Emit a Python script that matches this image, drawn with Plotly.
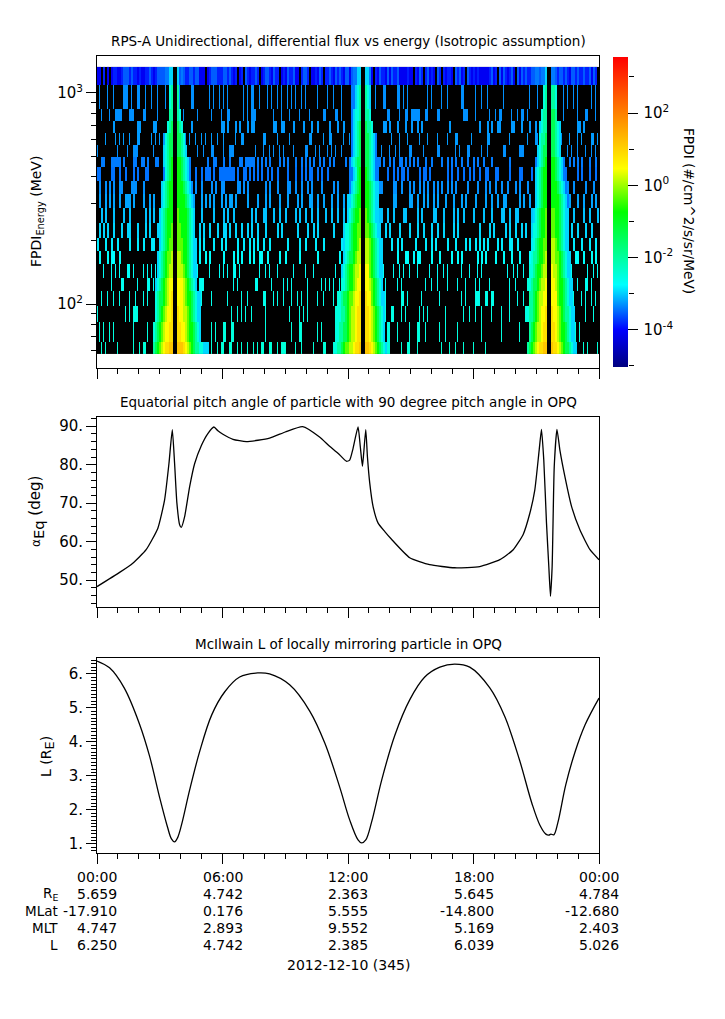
import numpy as np
import plotly.graph_objects as go

W, H = 725, 1019

# energy bin edges of the spectrogram, MeV, top row first
ENERGY_EDGES = [1328, 1091, 840, 737, 646, 567, 497, 446, 383, 332, 285, 242, 205, 178, 155, 133, 115, 98, 82, 66, 58]
N_COLS = 251

# log10 flux of a single count in each row below the top one
ONE_COUNT = [-3.3, -3.3, -3.25, -3.25, -3.3, -3.4, -3.45, -3.3, -3.2, -3.05, -2.95, -2.85, -2.75, -2.7, -2.65, -2.6, -2.55, -2.5, -2.45]
# how many pixels wide a count looks in each of those rows
HIT_WIDTHS = [1, 1, 2, 1, 1, 2, 2, 2, 2, 2, 2, 2, 2, 1, 1, 1, 1, 1, 1]

# level codes used in the strings below
LEVELS = {'x': -4.1, 'y': -3.85, 'z': -3.55, 'a': -3.9, 'b': -3.4, 'c': -2.95, 'd': -2.5, 'e': -2.0, 'f': -1.4, 'g': -0.8,
          'h': -0.3, 'i': 0.15, 'j': 0.5, 'k': 0.85, 'l': 1.15}

# top energy row, never empty for long
TOP_ROW_A = "xx.y.x.xyyxxyzzzyzyyxyxxyyzyxyzzzzbcc..zczzzyyzzyzzxxx.xyzzzyyy"
TOP_ROW_B = "zzyzyxy.xy.zyxyyzy.xyzzyxzyy.xyxzyyzxx.yzzy.xxyxzy.yyzyxzyzyxzzz"
TOP_ROW_C = "x.yyzyxxyxyx.yxzyyxzxzyyzxxxxyxx.yxzy.yzxyx.zy.yxyyx.zyzxy.zyxyyx"
TOP_ROW_D = "xyxxxxxyzxy.zxzyxyzx.zxzyzyyzzbbc..bbzzzyyzzyzyxzzyzyyzyyzxzy"

# sample columns with a count, one list per energy row
HITS_01 = [1, 5, 8, 13, 14, 15, 17, 20, 21, 24, 27, 30, 34, 41, 47, 48, 56, 58, 61, 63, 65, 73, 75, 77, 78, 81, 85, 87, 90, 92, 95, 97, 99, 102, 104, 110, 115, 118, 122, 139, 143, 144, 150, 151, 153, 155, 165, 167, 172, 175, 182, 183, 189, 192, 195, 203, 216, 220, 233, 235, 238, 240, 247, 249]
HITS_02 = [2, 6, 9, 10, 11, 12, 16, 17, 18, 23, 24, 30, 41, 43, 50, 57, 62, 65, 66, 73, 75, 77, 78, 79, 88, 92, 96, 101, 106, 113, 114, 119, 120, 122, 145, 146, 151, 154, 155, 157, 158, 159, 160, 161, 164, 165, 170, 171, 183, 184, 185, 189, 196, 199, 201, 202, 207, 210, 212, 213, 215, 233, 240, 244, 245, 249]
HITS_03 = [8, 20, 21, 28, 29, 47, 62, 63, 65, 69, 71, 75, 77, 78, 88, 89, 92, 93, 98, 103, 107, 110, 116, 120, 123, 127, 143, 144, 146, 150, 154, 157, 160, 162, 176, 191, 195, 197, 200, 201, 207, 208, 212, 216, 219, 240, 241, 243]
HITS_04 = [4, 9, 11, 13, 16, 20, 21, 27, 29, 31, 33, 34, 44, 46, 49, 52, 54, 57, 60, 63, 69, 72, 73, 83, 84, 90, 96, 106, 107, 113, 116, 117, 123, 126, 138, 147, 151, 155, 161, 165, 170, 175, 179, 180, 187, 195, 196, 206, 215, 219, 220, 232, 236, 240, 242, 247, 248, 250]
HITS_05 = [0, 10, 15, 18, 19, 20, 28, 44, 50, 53, 57, 58, 63, 66, 67, 68, 79, 83, 86, 88, 91, 93, 98, 104, 105, 109, 111, 115, 117, 119, 122, 142, 146, 149, 151, 156, 157, 163, 170, 171, 179, 181, 185, 186, 192, 195, 203, 204, 211, 212, 213, 235, 237, 240, 244, 247, 249]
HITS_06 = [2, 3, 7, 8, 9, 10, 11, 13, 18, 19, 22, 23, 25, 29, 30, 55, 58, 59, 63, 66, 71, 72, 74, 75, 76, 77, 78, 80, 82, 84, 86, 91, 93, 95, 99, 102, 104, 106, 108, 111, 113, 116, 118, 124, 127, 141, 143, 146, 148, 151, 152, 154, 156, 158, 160, 164, 167, 172, 175, 177, 179, 182, 185, 188, 190, 193, 197, 206, 219, 233, 236, 238, 240, 242, 246, 249]
HITS_07 = [0, 1, 7, 8, 11, 14, 18, 20, 24, 25, 46, 49, 52, 54, 55, 56, 58, 61, 62, 63, 64, 65, 66, 67, 68, 70, 73, 74, 76, 78, 80, 82, 85, 87, 90, 95, 99, 102, 104, 106, 107, 110, 112, 115, 126, 140, 145, 148, 150, 152, 153, 155, 161, 163, 164, 166, 175, 177, 180, 183, 186, 188, 191, 194, 195, 199, 200, 206, 211, 212, 217, 234, 240, 242, 246, 249]
HITS_08 = [1, 4, 6, 8, 11, 12, 17, 18, 19, 23, 47, 49, 52, 57, 59, 62, 63, 70, 71, 73, 75, 84, 86, 90, 95, 96, 99, 102, 105, 107, 112, 118, 120, 141, 142, 148, 149, 152, 156, 158, 161, 163, 165, 168, 170, 172, 175, 177, 179, 185, 190, 194, 196, 199, 202, 205, 209, 211, 215, 219, 235, 238, 244, 248]
HITS_09 = [1, 4, 6, 8, 11, 14, 15, 16, 18, 23, 26, 28, 48, 52, 54, 56, 58, 62, 64, 66, 67, 69, 75, 80, 84, 86, 91, 95, 100, 102, 106, 107, 110, 113, 117, 120, 123, 125, 148, 149, 156, 157, 160, 163, 165, 168, 170, 174, 178, 182, 184, 189, 194, 197, 200, 203, 204, 211, 213, 216, 236, 240, 243, 247, 249]
HITS_10 = [2, 4, 8, 13, 16, 24, 26, 28, 52, 58, 63, 65, 68, 77, 79, 83, 84, 88, 91, 94, 99, 101, 104, 107, 110, 114, 117, 120, 123, 141, 142, 145, 148, 153, 154, 160, 162, 168, 169, 173, 178, 180, 183, 188, 193, 197, 202, 203, 206, 209, 210, 217, 238, 243, 246, 250]
HITS_11 = [1, 3, 5, 8, 12, 15, 16, 20, 24, 26, 30, 51, 53, 56, 60, 63, 64, 66, 69, 72, 75, 77, 80, 84, 90, 92, 100, 105, 108, 110, 118, 123, 141, 144, 146, 151, 156, 160, 163, 167, 170, 173, 178, 180, 191, 196, 198, 204, 206, 209, 212, 214, 217, 237, 240, 244, 247]
HITS_12 = [0, 4, 7, 10, 16, 20, 23, 27, 28, 51, 53, 58, 62, 64, 70, 73, 76, 78, 80, 83, 86, 95, 101, 104, 109, 113, 122, 142, 147, 150, 152, 159, 164, 167, 169, 175, 179, 184, 186, 189, 191, 193, 195, 200, 202, 206, 207, 210, 217, 235, 238, 242, 246, 249]
HITS_13 = [1, 5, 7, 8, 11, 51, 54, 56, 63, 68, 70, 72, 76, 78, 81, 82, 85, 91, 94, 101, 110, 121, 150, 154, 155, 158, 160, 161, 167, 171, 177, 180, 182, 190, 192, 194, 199, 203, 207, 211, 216, 239, 240, 243, 247, 249]
HITS_14 = [3, 7, 9, 11, 15, 16, 18, 23, 25, 27, 29, 50, 56, 61, 63, 65, 68, 69, 71, 81, 84, 86, 90, 98, 104, 108, 119, 122, 141, 143, 148, 151, 153, 156, 160, 166, 170, 173, 175, 182, 186, 190, 192, 205, 208, 210, 213, 237, 245, 248, 250]
HITS_15 = [7, 12, 13, 20, 25, 26, 28, 51, 52, 53, 68, 70, 79, 80, 87, 93, 95, 97, 105, 112, 114, 116, 118, 121, 142, 144, 150, 152, 164, 167, 170, 175, 180, 184, 189, 191, 196, 206, 209, 215, 240, 244, 245, 247]
HITS_16 = [2, 5, 8, 11, 16, 19, 23, 25, 29, 50, 52, 57, 65, 72, 75, 83, 84, 88, 90, 93, 97, 100, 102, 105, 110, 113, 118, 121, 144, 152, 153, 155, 162, 171, 182, 184, 189, 190, 191, 194, 195, 197, 198, 206, 210, 213, 238, 242, 244, 247, 249]
HITS_17 = [0, 14, 16, 18, 19, 20, 30, 51, 67, 70, 72, 74, 77, 84, 96, 101, 103, 105, 120, 144, 147, 148, 152, 154, 161, 163, 165, 174, 183, 186, 189, 192, 197, 202, 206, 214, 238, 244, 248]
HITS_18 = [1, 3, 6, 8, 18, 25, 57, 59, 63, 64, 67, 68, 84, 97, 101, 102, 110, 112, 120, 121, 143, 145, 146, 150, 156, 160, 161, 164, 171, 174, 180, 192, 202, 211, 239, 241]
HITS_19 = [2, 4, 10, 18, 21, 23, 24, 53, 54, 57, 60, 62, 63, 66, 67, 70, 72, 75, 78, 80, 82, 83, 86, 87, 90, 92, 93, 94, 99, 102, 108, 113, 114, 145, 146, 152, 155, 156, 160, 172, 176, 179, 183, 188, 194, 243, 245, 250]
ALL_HITS = [HITS_01, HITS_02, HITS_03, HITS_04, HITS_05, HITS_06, HITS_07, HITS_08, HITS_09, HITS_10,
            HITS_11, HITS_12, HITS_13, HITS_14, HITS_15, HITS_16, HITS_17, HITS_18, HITS_19]

# radiation belt passes: levels running in towards and out from the empty slot at perigee
BELT_LEFT_END = [37, 131, 224]
BELT_RIGHT_START = [40, 134, 227]
BELT1_IN = ["zbbcc", "de", "ee", "def", "deff", "cdeff", "cdefg", "bdefg", "cdefgg", "cdefgg", "cdefggg", "cdefggh", "cdefghh", "cdefghhi", "cdefghii", "cdefghijj", "deffghijk", "defghijjk", "defghijjkk", "efghijkkll"]
BELT1_OUT = ["czb", "e", "ed", "fed", "ffed", "ffedc", "ggfedcb", "ggfedcb", "gggfedc", "ggggfedc", "hggggfedc", "hhgggfedc", "hhhggfedcc", "iihggfedcc", "iiihgfedcc", "jjjihgfedc", "jjjihggfedcc", "kjjiihgfedcc", "kkjjihggfedc", "lllkjihgfeeddccc"]
BELT2_IN = ["zbbcc", "bbcde", "bcdde", "bcdef", "bcdef", "bcdef", "bcdeff", "bbcdfg", "bcdefg", "ccdefgg", "cdefggh", "cddefgghh", "cddefgghi", "cdeffghii", "cdefgghiij", "ddefgghijj", "ddeffghhijjk", "dddeefghiijkk", "ddeeffghiijkk", "ddeefghhiijkkl"]
BELT2_OUT = ["ccb", "edc", "eed", "feed", "ffedcb", "ffedcb", "ffedcbb", "gfedcbb", "ggfedcc", "ggfedcc", "hgfedcc", "hhgfedcc", "iihgfedcc", "iihgfedcc", "jjhgfedcc", "jjihgfedc", "kjjhgfedcc", "kkjihgfedc", "kkjihgfedc", "llkjihgfedc"]
BELT3_IN = ["zbbc", "de", "dee", "cdee", "deef", "cdeff", "cdefg", "cdefgg", "cdefgg", "cdefgg", "cdefggh", "ddefggh", "defgghh", "deefgghi", "ddefgghii", "ddeffghiij", "eefghiijj", "ddeefghijjk", "efghiijkk", "efghijkkll"]
BELT3_OUT = ["bbz", "eed", "ffe", "ffedc", "ffedc", "ffedc", "ggfedcb", "ggfedcb", "gggfedcb", "ggggfedcb", "hhggfedcc", "hhggfedcc", "iihgfedcc", "iihhgfedcc", "jiihgfedcc", "jjihggfedcc", "jjjhggfedcc", "kjjihgfeedcc", "kkjihggfedcc", "lkkjihgffedcc"]
BELTS_IN = [BELT1_IN, BELT2_IN, BELT3_IN]
BELTS_OUT = [BELT1_OUT, BELT2_OUT, BELT3_OUT]

# equatorial pitch angle
PITCH_HOURS = [0, 1.08, 1.71, 2.35, 2.91, 3.23, 3.44, 3.6, 3.71, 3.82, 3.95, 4.03, 4.19, 4.43, 4.67, 4.99, 5.3, 5.59, 5.78, 6.02, 6.5, 7.14, 8.25, 9.0, 9.83, 10.64, 11.12, 11.52, 11.92, 12.08, 12.24, 12.48, 12.59, 12.69, 12.75, 12.85, 12.93, 13.04, 13.2, 13.44, 13.76, 14.08, 14.95, 15.9, 17.1, 18.3, 19.26, 19.9, 20.37, 20.69, 20.93, 21.14, 21.25, 21.36, 21.49, 21.6, 21.68, 21.76, 21.86, 21.99, 22.13, 22.37, 22.69, 23.09, 23.57, 24]
PITCH_DEG = [48.3, 52, 54.4, 57.9, 63.5, 70.8, 80.3, 89.1, 80.3, 70, 64.4, 63.7, 66.5, 74.3, 80.3, 85, 88.1, 89.8, 88.8, 87.9, 86.6, 86, 86.9, 88.5, 89.9, 87.2, 84.8, 83, 80.9, 81.2, 84.2, 89.8, 84.6, 79.6, 83, 89.1, 82, 75.2, 69.1, 64.8, 62.6, 60.6, 55.8, 54, 53.2, 53.5, 55.3, 57.9, 61.8, 67.3, 73.4, 83.8, 89.2, 81.2, 64.8, 53.6, 45.8, 53.6, 79.5, 89.2, 83.8, 76.9, 69.1, 63, 57.9, 55.3]

# McIlwain L
L_HOURS = [0, 0.6, 1.3, 2.03, 2.51, 2.99, 3.37, 3.56, 3.71, 3.85, 4.04, 4.43, 4.9, 5.48, 6.1, 6.82, 7.68, 8.25, 9.21, 10.17, 10.89, 11.6, 12.08, 12.48, 12.65, 12.85, 13.13, 13.61, 14.24, 14.95, 15.67, 16.39, 17.1, 17.82, 18.78, 19.5, 20.2, 20.79, 21.17, 21.46, 21.6, 21.7, 21.84, 22.03, 22.41, 22.85, 23.33, 24]
L_VALUES = [6.38, 6.18, 5.59, 4.53, 3.59, 2.38, 1.5, 1.15, 1.06, 1.18, 1.56, 2.59, 3.7, 4.79, 5.47, 5.91, 6.03, 6, 5.68, 4.91, 3.97, 2.68, 1.71, 1.12, 1.03, 1.12, 1.65, 2.88, 4.2, 5.24, 5.91, 6.2, 6.29, 6.2, 5.59, 4.74, 3.47, 2.2, 1.56, 1.29, 1.26, 1.29, 1.27, 1.62, 2.74, 3.7, 4.5, 5.29]

# ephemeris table under the bottom axis
TABLE_HOURS = [0, 6, 12, 18, 24]
TIME_LABELS = ["00:00", "06:00", "12:00", "18:00", "00:00"]
RE_LABELS = ["5.659", "4.742", "2.363", "5.645", "4.784"]
MLAT_LABELS = ["-17.910", "0.176", "5.555", "-14.800", "-12.680"]
MLT_LABELS = ["4.747", "2.893", "9.552", "5.169", "2.403"]
LSHELL_LABELS = ["6.250", "4.742", "2.385", "6.039", "5.026"]

COLORSCALE = [[0, '#00007f'], [0.12, '#0000ff'], [0.265, '#00ffff'], [0.5, '#00ff00'], [0.64, '#ffff00'], [1, '#ff0000']]
ZMIN, ZMAX = -5.03, 3.55

FONT = 'DejaVu Sans'


def xfrac(px):
    return px / W


def yfrac(px):
    return 1 - px / H


# top row and belts are read on the coarse columns, single counts can be a pixel wide
coarse = np.full((len(ENERGY_EDGES) - 1, N_COLS), np.nan)
for offset, seg in zip([0, 63, 126, 189], [TOP_ROW_A, TOP_ROW_B, TOP_ROW_C, TOP_ROW_D]):
    for i, ch in enumerate(seg):
        if ch != '.' and offset + i < N_COLS:
            coarse[0, offset + i] = LEVELS[ch]
for b in range(3):
    for r in range(coarse.shape[0]):
        inward = BELTS_IN[b][r]
        for i, ch in enumerate(inward):
            coarse[r, BELT_LEFT_END[b] - len(inward) + 1 + i] = LEVELS[ch]
        for i, ch in enumerate(BELTS_OUT[b][r]):
            coarse[r, BELT_RIGHT_START[b] + i] = LEVELS[ch]

flux = np.repeat(coarse, 2, axis=1)
for r, hits in enumerate(ALL_HITS):
    for col in hits:
        if np.isnan(flux[r + 1, 2 * col]):
            flux[r + 1, 2 * col] = ONE_COUNT[r]
        if (HIT_WIDTHS[r] == 2 or col + 1 in hits) and np.isnan(flux[r + 1, 2 * col + 1]):
            flux[r + 1, 2 * col + 1] = ONE_COUNT[r]
for b in range(3):
    flux[:, 2 * BELT_LEFT_END[b] + 2:2 * BELT_RIGHT_START[b]] = np.nan

hour_edges = np.linspace(0, 24, 2 * N_COLS + 1)
energy_edges = ENERGY_EDGES[::-1]

fig = go.Figure()

# empty bins are black, they are not on the colour scale
fig.add_trace(go.Heatmap(x=hour_edges, y=energy_edges, z=np.zeros_like(flux), colorscale=[[0, 'black'], [1, 'black']],
                         showscale=False, hoverinfo='skip', xaxis='x', yaxis='y'))
fig.add_trace(go.Heatmap(x=hour_edges, y=energy_edges, z=flux[::-1], colorscale=COLORSCALE, zmin=ZMIN, zmax=ZMAX,
                         xaxis='x', yaxis='y',
                         colorbar=dict(x=xfrac(613), xanchor='left', xpad=0, y=yfrac(212), yanchor='middle', ypad=0,
                                       len=310 / H, lenmode='fraction', thickness=15, thicknessmode='pixels',
                                       outlinewidth=0, ticks='outside', ticklen=10, tickcolor='black',
                                       tickvals=[-4, -2, 0, 2],
                                       ticktext=['\u200910<sup>-4</sup>', '\u200910<sup>-2</sup>', '\u200910<sup>0</sup>', '\u200910<sup>2</sup>'],
                                       tickfont=dict(size=15, color='black', family=FONT))))
fig.add_trace(go.Scatter(x=PITCH_HOURS, y=PITCH_DEG, mode='lines', line=dict(color='black', width=1.3, shape='spline', smoothing=0.5),
                         xaxis='x2', yaxis='y2'))
fig.add_trace(go.Scatter(x=L_HOURS, y=L_VALUES, mode='lines', line=dict(color='black', width=1.3, shape='spline', smoothing=1),
                         xaxis='x3', yaxis='y3'))
# carries the odd-decade ticks of the colour bar
fig.add_trace(go.Scatter(x=[], y=[], xaxis='x4', yaxis='y4'))

# whole pixels across, so that every grid column lands on one pixel
x_domain = [xfrac(97), xfrac(599)]
x_common = dict(range=[0, 24], domain=x_domain, showline=True, linecolor='black', linewidth=1, mirror=True, showgrid=False,
                zeroline=False, ticks='outside', ticklen=10, tickcolor='black', tickvals=TABLE_HOURS, showticklabels=False,
                minor=dict(ticks='outside', ticklen=5, tickcolor='black', dtick=1, tick0=0, showgrid=False))
y_common = dict(showline=True, linecolor='black', linewidth=1, mirror=True, showgrid=False, zeroline=False,
                ticks='outside', ticklen=10, tickcolor='black', tickfont=dict(size=15, color='black', family=FONT))

log_minor = [60, 70, 80, 90, 200, 300, 400, 500, 600, 700, 800, 900]
fig.update_layout(
    width=W, height=H, margin=dict(l=0, r=0, t=0, b=0), paper_bgcolor='white', plot_bgcolor='white', showlegend=False,
    font=dict(family=FONT, color='black', size=13),
    xaxis=dict(x_common, anchor='y'),
    xaxis2=dict(x_common, anchor='y2'),
    xaxis3=dict(x_common, anchor='y3'),
    xaxis4=dict(visible=False, domain=[xfrac(613), xfrac(628)], anchor='y4'),
    yaxis=dict(y_common, anchor='x', type='log', range=[1.697, 3.175], domain=[yfrac(368), yfrac(56)],
               tickvals=[100, 1000], ticktext=['10<sup>2</sup>', '10<sup>3</sup>'],
               minor=dict(ticks='outside', ticklen=5, tickcolor='black', tickvals=log_minor, showgrid=False)),
    yaxis2=dict(y_common, anchor='x2', range=[43, 92.4], domain=[yfrac(607), yfrac(417)],
                tickvals=[50, 60, 70, 80, 90], ticktext=['50.', '60.', '70.', '80.', '90.'],
                minor=dict(ticks='outside', ticklen=5, tickcolor='black', dtick=2, tick0=50, showgrid=False)),
    yaxis3=dict(y_common, anchor='x3', range=[0.735, 6.47], domain=[yfrac(853), yfrac(658)],
                tickvals=[1, 2, 3, 4, 5, 6], ticktext=['1.', '2.', '3.', '4.', '5.', '6.'],
                minor=dict(ticks='outside', ticklen=5, tickcolor='black', dtick=0.1, tick0=1, showgrid=False)),
    yaxis4=dict(anchor='free', position=xfrac(628), side='right', range=[ZMIN, ZMAX],
                domain=[yfrac(367), yfrac(57)], showgrid=False, zeroline=False, showline=False, ticks='outside', ticklen=5,
                tickcolor='black', tickvals=[-5, -3, -1, 1, 3], showticklabels=False),
)

annotations = []


def add_text(text, x, y, xref='paper', xanchor='center', size=13.5, angle=0, xshift=0):
    annotations.append(dict(text=text, x=x, y=y, xref=xref, yref='paper', xanchor=xanchor, yanchor='middle', xshift=xshift,
                            showarrow=False, textangle=angle, font=dict(size=size, color='black', family=FONT)))


add_text('RPS-A Unidirectional, differential flux vs energy (Isotropic assumption)', xfrac(348), yfrac(41))
add_text('Equatorial pitch angle of particle with 90 degree pitch angle in OPQ', xfrac(348), yfrac(402))
add_text('McIlwain L of locally mirroring particle in OPQ', xfrac(348), yfrac(644))
add_text('FPDI<sub>Energy</sub> (MeV)', xfrac(37), yfrac(212), size=14, angle=-90)
# base size only sets the subscript, the rest of the label is sized by hand
add_text('<span style="font-size:12px">α</span><sub>Eq</sub><span style="font-size:15px"> (deg)</span>', xfrac(37), yfrac(512), size=21, angle=-90)
add_text('L (R<sub><span style="font-size:13px">E</span></sub>)', xfrac(47), yfrac(757), size=14, angle=-90)
add_text('FPDI (#/cm^2/s/sr/MeV)', xfrac(689), yfrac(211), size=13.7, angle=90)

table_rows = [(877, TIME_LABELS, ''), (894, RE_LABELS, 'R<sub>E</sub>'), (911, MLAT_LABELS, 'MLat'),
              (928, MLT_LABELS, 'MLT'), (945, LSHELL_LABELS, 'L')]
for ypx, labels, name in table_rows:
    if name:
        add_text(name, xfrac(60), yfrac(ypx), xanchor='right')
    for hour, label in zip(TABLE_HOURS, labels):
        add_text(label, hour, yfrac(ypx), xref='x3', xanchor='right', size=14, xshift=22)
add_text('2012-12-10 (345)', xfrac(348), yfrac(965), size=14)
fig.update_layout(annotations=annotations)

fig.write_html("out.html", post_script="document.body.style.margin='0';", config=dict(displayModeBar=False))
